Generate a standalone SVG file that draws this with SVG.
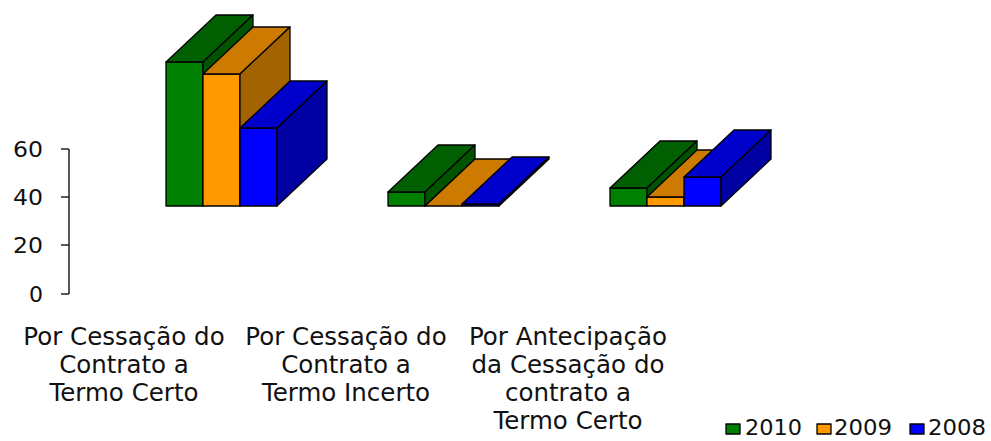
<svg xmlns="http://www.w3.org/2000/svg" width="991" height="441" viewBox="0 0 991 441">
<style>
text{font-family:"DejaVu Sans","Verdana",sans-serif;fill:#111}
.cat{font-size:24.5px;text-anchor:middle}
.ax{font-size:22px;text-anchor:end}
.lg{font-size:21px}
.b{stroke:#000;stroke-width:1.3;stroke-linejoin:round}
.gf{fill:#008000}.gt{fill:#005f00}.gs{fill:#005400}
.of{fill:#ff9900}.ot{fill:#cc7a00}.os{fill:#a36300}
.bf{fill:#0000ff}.bt{fill:#0000cc}.bs{fill:#0000a3}
.axis{stroke:#222;stroke-width:1.5;fill:none}
</style>
<rect width="991" height="441" fill="#fff"/>
<g id="axis">
<path class="axis" d="M69 149V294M61 149H69M61 197H69M61 245H69M61 294H69"/>
<text class="ax" x="43" y="157" textLength="30" lengthAdjust="spacingAndGlyphs">60</text>
<text class="ax" x="43" y="205" textLength="30" lengthAdjust="spacingAndGlyphs">40</text>
<text class="ax" x="43" y="253" textLength="30" lengthAdjust="spacingAndGlyphs">20</text>
<text class="ax" x="43" y="302">0</text>
</g>
<g id="cat1">
<g class="b">
<rect class="gf" x="166" y="62" width="37" height="144"/>
<polygon class="gt" points="166,62 203,62 253,15 216,15"/>
<polygon class="gs" points="203,62 253,15 253,159 203,206"/>
<rect class="of" x="203" y="74" width="37" height="132"/>
<polygon class="ot" points="203,74 240,74 290,27 253,27"/>
<polygon class="os" points="240,74 290,27 290,159 240,206"/>
<rect class="bf" x="240" y="128" width="37" height="78"/>
<polygon class="bt" points="240,128 277,128 327,81 290,81"/>
<polygon class="bs" points="277,128 327,81 327,159 277,206"/>
</g>
<text class="cat" x="124" y="345">Por Cessação do</text>
<text class="cat" x="124" y="373">Contrato a</text>
<text class="cat" x="124" y="401">Termo Certo</text>
</g>
<g id="cat2">
<g class="b">
<rect class="gf" x="388" y="192" width="37" height="14"/>
<polygon class="gt" points="388,192 425,192 475,145 438,145"/>
<polygon class="gs" points="425,192 475,145 475,159 425,206"/>
<polygon class="ot" points="425,206 462,206 512,159 475,159"/>
<rect class="bf" x="462" y="204" width="37" height="2"/>
<polygon class="bt" points="462,204 499,204 549,157 512,157"/>
<polygon class="bs" points="499,204 549,157 549,159 499,206"/>
</g>
<text class="cat" x="346" y="345">Por Cessação do</text>
<text class="cat" x="346" y="373">Contrato a</text>
<text class="cat" x="346" y="401">Termo Incerto</text>
</g>
<g id="cat3">
<g class="b">
<rect class="gf" x="610" y="188" width="37" height="18"/>
<polygon class="gt" points="610,188 647,188 697,141 660,141"/>
<polygon class="gs" points="647,188 697,141 697,159 647,206"/>
<rect class="of" x="647" y="197" width="37" height="9"/>
<polygon class="ot" points="647,197 684,197 734,150 697,150"/>
<polygon class="os" points="684,197 734,150 734,159 684,206"/>
<rect class="bf" x="684" y="177" width="37" height="29"/>
<polygon class="bt" points="684,177 721,177 771,130 734,130"/>
<polygon class="bs" points="721,177 771,130 771,159 721,206"/>
</g>
<text class="cat" x="568" y="345">Por Antecipação</text>
<text class="cat" x="568" y="373">da Cessação do</text>
<text class="cat" x="568" y="401">contrato a</text>
<text class="cat" x="568" y="429">Termo Certo</text>
</g>
<g id="legend">
<rect class="b gf" x="726" y="424" width="14" height="10"/>
<text class="lg" x="745" y="435" textLength="57" lengthAdjust="spacingAndGlyphs">2010</text>
<rect class="b of" x="817" y="424" width="14" height="10"/>
<text class="lg" x="834" y="435" textLength="58" lengthAdjust="spacingAndGlyphs">2009</text>
<rect class="b bf" x="910" y="424" width="14" height="10"/>
<text class="lg" x="928" y="435" textLength="58" lengthAdjust="spacingAndGlyphs">2008</text>
</g>
</svg>
